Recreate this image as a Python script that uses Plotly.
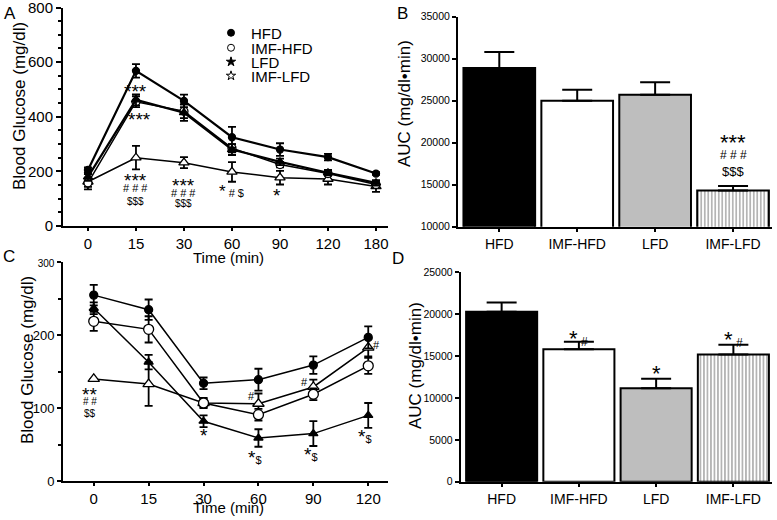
import plotly.graph_objects as go

# ---------- data ----------
timesA = ["0", "15", "30", "60", "90", "120", "180"]
hfdA = [205, 568, 458, 325, 280, 252, 192]
hfdA_err = [10, 25, 23, 38, 23, 12, 5]
imfhfdA = [158, 455, 420, 285, 225, 192, 152]
imfhfdA_err = [15, 20, 25, 15, 10, 8, 10]
lfdA = [180, 462, 415, 280, 235, 195, 158]
lfdA_err = [15, 20, 30, 20, 12, 10, 10]
imflfdA = [162, 250, 232, 198, 177, 172, 145]
imflfdA_err = [28, 43, 20, 36, 25, 20, 20]

timesC = ["0", "15", "30", "60", "90", "120"]
hfdC = [255, 235, 134, 139, 159, 197]
hfdC_err = [14, 14, 8, 15, 12, 15]
imfhfdC = [219, 208, 107, 91, 119, 158]
imfhfdC_err = [13, 18, 6, 8, 8, 11]
lfdC = [237, 163, 82, 59, 65, 90]
lfdC_err = [8, 10, 8, 12, 17, 17]
imflfdC = [140, 133, 107, 106, 129, 183]
imflfdC_err = [0, 30, 7, 14, 10, 12]

groups = ["HFD", "IMF-HFD", "LFD", "IMF-LFD"]
aucB = [28900, 25000, 25700, 14300]
aucB_err = [1900, 1300, 1500, 550]
aucD = [20300, 15800, 11150, 15200]
aucD_err = [1100, 900, 1150, 1150]

yticksC = [0, 100, 200, 300]
yticktextC = ["0", "100", "200", "<span style='font-size:10px'>300</span>"]

bar_colors = ["black", "white", "#bebebe", "white"]
bar_patterns = ["", "", "", "|"]

FONT = "Liberation Sans, Arial, sans-serif"
W, H = 777, 520

fig = go.Figure()


def line_trace(x, y, err, symbol, fill, size, lw, xa, ya):
    return go.Scatter(
        x=x, y=y, mode="lines+markers", showlegend=False,
        xaxis=xa, yaxis=ya,
        line=dict(color="black", width=lw),
        marker=dict(symbol=symbol, size=size, color=fill,
                    line=dict(color="black", width=1.3)),
        error_y=dict(type="data", array=err, visible=True, color="black",
                     thickness=1.8, width=4),
        cliponaxis=False,
    )


# Panel A
fig.add_trace(line_trace(timesA, imflfdA, imflfdA_err, "triangle-up", "white", 9, 1.5, "x", "y"))
fig.add_trace(line_trace(timesA, imfhfdA, imfhfdA_err, "circle", "white", 8, 1.5, "x", "y"))
fig.add_trace(line_trace(timesA, lfdA, lfdA_err, "triangle-up", "black", 8, 2.2, "x", "y"))
fig.add_trace(line_trace(timesA, hfdA, hfdA_err, "circle", "black", 7, 2.2, "x", "y"))

# legend-only entries, one legend each so the rows sit close together
legend_rows = [("HFD", "circle", "black", "legend", 33),
               ("IMF-HFD", "circle", "white", "legend2", 48),
               ("LFD", "star", "black", "legend3", 62),
               ("IMF-LFD", "star", "white", "legend4", 76)]
for nm, sym, fill, lg, _ in legend_rows:
    fig.add_trace(go.Scatter(x=[None], y=[None], mode="markers", name=nm,
                             xaxis="x", yaxis="y", showlegend=True, legend=lg,
                             marker=dict(symbol=sym, size=7, color=fill,
                                         line=dict(color="black", width=1))))

# Panel C
fig.add_trace(line_trace(timesC, imflfdC, imflfdC_err, "triangle-up", "white", 10, 1.5, "x3", "y3"))
fig.add_trace(line_trace(timesC, imfhfdC, imfhfdC_err, "circle", "white", 10, 1.5, "x3", "y3"))
fig.add_trace(line_trace(timesC, lfdC, lfdC_err, "triangle-up", "black", 8, 1.5, "x3", "y3"))
fig.add_trace(line_trace(timesC, hfdC, hfdC_err, "circle", "black", 8, 1.5, "x3", "y3"))


def bar_trace(y, err, xa, ya):
    return go.Bar(
        x=groups, y=y, xaxis=xa, yaxis=ya, showlegend=False, width=0.92,
        marker=dict(color=bar_colors, line=dict(color="black", width=2),
                    pattern=dict(shape=bar_patterns, fgcolor="black", bgcolor="white",
                                 size=3.5, solidity=0.4)),
        error_y=dict(type="data", symmetric=False, array=err,
                     arrayminus=[0] * len(err), color="black", thickness=2, width=15),
    )


fig.add_trace(bar_trace(aucB, aucB_err, "x2", "y2"))
fig.add_trace(bar_trace(aucD, aucD_err, "x4", "y4"))


def xd(a, b):
    return [a / W, b / W]


def yd(top, bottom):
    return [1 - bottom / H, 1 - top / H]


axis_common = dict(showline=True, linecolor="black", linewidth=2, ticks="outside",
                   tickcolor="black", tickwidth=2, showgrid=False, zeroline=False,
                   mirror=False, automargin=False, ticklabeloverflow="allow")

legends = {}
for i, (nm, sym, fill, lg, yc) in enumerate(legend_rows):
    legends[lg] = dict(x=211 / W, y=1 - yc / H, xanchor="left", yanchor="middle",
                       font=dict(size=15, family=FONT, color="black"),
                       bgcolor="rgba(0,0,0,0)", borderwidth=0, itemwidth=30)

fig.update_layout(
    width=W, height=H, margin=dict(l=0, r=0, t=0, b=0, autoexpand=False),
    paper_bgcolor="white", plot_bgcolor="white",
    font=dict(family=FONT, color="black"),
    barmode="overlay",
    **legends,
    xaxis=dict(domain=xd(63, 388), anchor="y", type="category", range=[-0.52, 6.25],
               ticklen=3, tickfont=dict(size=15), **axis_common),
    yaxis=dict(domain=yd(7.5, 226), anchor="x", range=[0, 800], dtick=200, ticklen=5,
               tickfont=dict(size=15),
               minor=dict(dtick=50, ticks="outside", ticklen=3, tickcolor="black", tickwidth=1.5),
               **axis_common),
    xaxis2=dict(domain=xd(458, 772), anchor="y2", type="category", range=[-0.53, 3.5],
                ticklen=3, tickfont=dict(size=14), **axis_common),
    yaxis2=dict(domain=yd(16.7, 226.7), anchor="x2", range=[10000, 35000], dtick=5000,
                ticklen=4, tickfont=dict(size=10.5), tickformat="d", **axis_common),
    xaxis3=dict(domain=xd(63, 388), anchor="y3", type="category", range=[-0.56, 5.36],
                ticklen=3, tickfont=dict(size=15), **axis_common),
    yaxis3=dict(domain=yd(262.3, 481), anchor="x3", range=[0, 300], tickvals=yticksC,
                ticktext=yticktextC, ticklen=4, tickfont=dict(size=13),
                minor=dict(dtick=50, ticks="outside", ticklen=3, tickcolor="black", tickwidth=1.5),
                **axis_common),
    xaxis4=dict(domain=xd(460.7, 772), anchor="y4", type="category", range=[-0.53, 3.5],
                ticklen=3, tickfont=dict(size=14), **axis_common),
    yaxis4=dict(domain=yd(272.3, 481.7), anchor="x4", range=[0, 25000], dtick=5000,
                ticklen=4, tickfont=dict(size=10.5), tickformat="d", **axis_common),
)

anns = []


def ann(x, y, text, xref, yref, size=14, yshift=0, angle=0):
    anns.append(dict(x=x, y=y, xref=xref, yref=yref, text=text, showarrow=False,
                     yshift=yshift, textangle=angle, xanchor="center", yanchor="middle",
                     font=dict(size=size, family=FONT, color="black")))


def pann(px, py, text, size, angle=0):
    ann(px / W, 1 - py / H, text, "paper", "paper", size, 0, angle)


# Panel letters
pann(10, 13, "A", 17)
pann(402, 13, "B", 17)
pann(9, 256, "C", 17)
pann(398, 258, "D", 17)

# Axis titles
pann(20, 106, "Blood Glucose (mg/dl)", 17, -90)
pann(27, 360, "Blood Glucose (mg/dl)", 17, -90)
pann(405, 103, "AUC (mg/dl•min)", 17, -90)
pann(415, 366, "AUC (mg/dl•min)", 17, -90)
pann(228, 257, "Time (min)", 15)
pann(228, 507, "Time (min)", 15)

STAR = -3  # asterisks sit high in the line box
D = "&#36;"
small = "<span style='font-size:11px'>%s</span>"

# Panel A significance marks
ann(1, 503, "***", "x", "y", 19, STAR)
ann(1.08, 401, "***", "x", "y", 19, STAR)
ann(1, 176, "***", "x", "y", 19, STAR)
ann(1, 139, "# # #", "x", "y", 11)
ann(1, 88, D * 3, "x", "y", 10)
ann(2, 161, "***", "x", "y", 19, STAR)
ann(2, 121, "# # #", "x", "y", 11)
ann(2, 81, D * 3, "x", "y", 10)
ann(3, 128, "<span style='font-size:17px'>*</span> # " + D, "x", "y", 11, 0)
ann(3.93, 121, "*", "x", "y", 19, STAR)

# Panel B
ann(3, 20560, "***", "x2", "y2", 22, -4)
ann(3, 18535, "# # #", "x2", "y2", 12)
ann(3, 16630, D * 3, "x2", "y2", 13)

# Panel C
ann(-0.07, 122.5, "**", "x3", "y3", 19, STAR)
ann(-0.07, 108.4, "# #", "x3", "y3", 10)
ann(-0.07, 92.3, D * 2, "x3", "y3", 10)
ann(2, 66, "*", "x3", "y3", 19, STAR)
ann(2.88, 117, "#", "x3", "y3", 11)
ann(2.93, 37, "*" + small % D, "x3", "y3", 19, STAR)
ann(3.84, 136, "#", "x3", "y3", 11)
ann(3.95, 40, "*" + small % D, "x3", "y3", 19, STAR)
ann(4.95, 64.5, "*" + small % D, "x3", "y3", 19, STAR)
ann(5.15, 186.5, "#", "x3", "y3", 11)

# Panel D
ann(1, 17523, "*<span style='font-size:12px'> #</span>", "x4", "y4", 22, -4)
ann(2, 13342, "*", "x4", "y4", 22, -4)
ann(3, 17440, "*<span style='font-size:12px'> #</span>", "x4", "y4", 22, -4)

fig.update_layout(annotations=anns)

fig.write_html("out.html", config={"displayModeBar": False},
               post_script="document.body.style.margin='0px';")
